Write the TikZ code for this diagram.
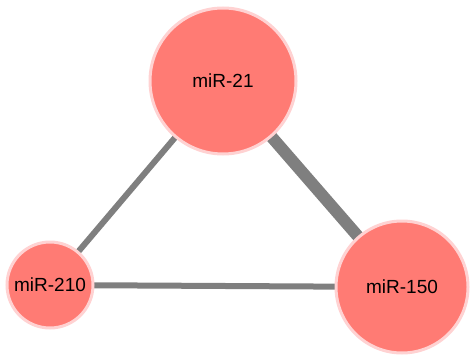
\documentclass[tikz,border=0pt]{standalone}
\usepackage{fontspec}
\setmainfont{Liberation Sans}
\usetikzlibrary{backgrounds}
\definecolor{nodefill}{HTML}{FF7B74}
\definecolor{nodeedge}{HTML}{FFD2D2}
\definecolor{edgegray}{HTML}{7F7F7F}
\begin{document}
\begin{tikzpicture}[x=1pt,y=-1pt,
  mir/.style={circle,fill=nodefill,draw=nodeedge,line width=3pt,inner sep=0pt,
    font=\fontsize{19}{21}\selectfont},
  link/.style={draw=edgegray}]
\useasboundingbox (0,0) rectangle (470,358);
\node[mir,minimum size=146pt] (m21) at (223,81) {miR-21};
\node[mir,minimum size=86pt] (m210) at (50,285) {miR-210};
\node[mir,minimum size=132pt] (m150) at (402,287) {miR-150};
\begin{pgfonlayer}{background}
\path[link,line width=6pt] (m21.center) -- (m210.center);
\path[link,line width=12pt] (m21.center) -- (m150.center);
\path[link,line width=6pt] (m210.center) -- (m150.center);
\end{pgfonlayer}
\end{tikzpicture}
\end{document}
